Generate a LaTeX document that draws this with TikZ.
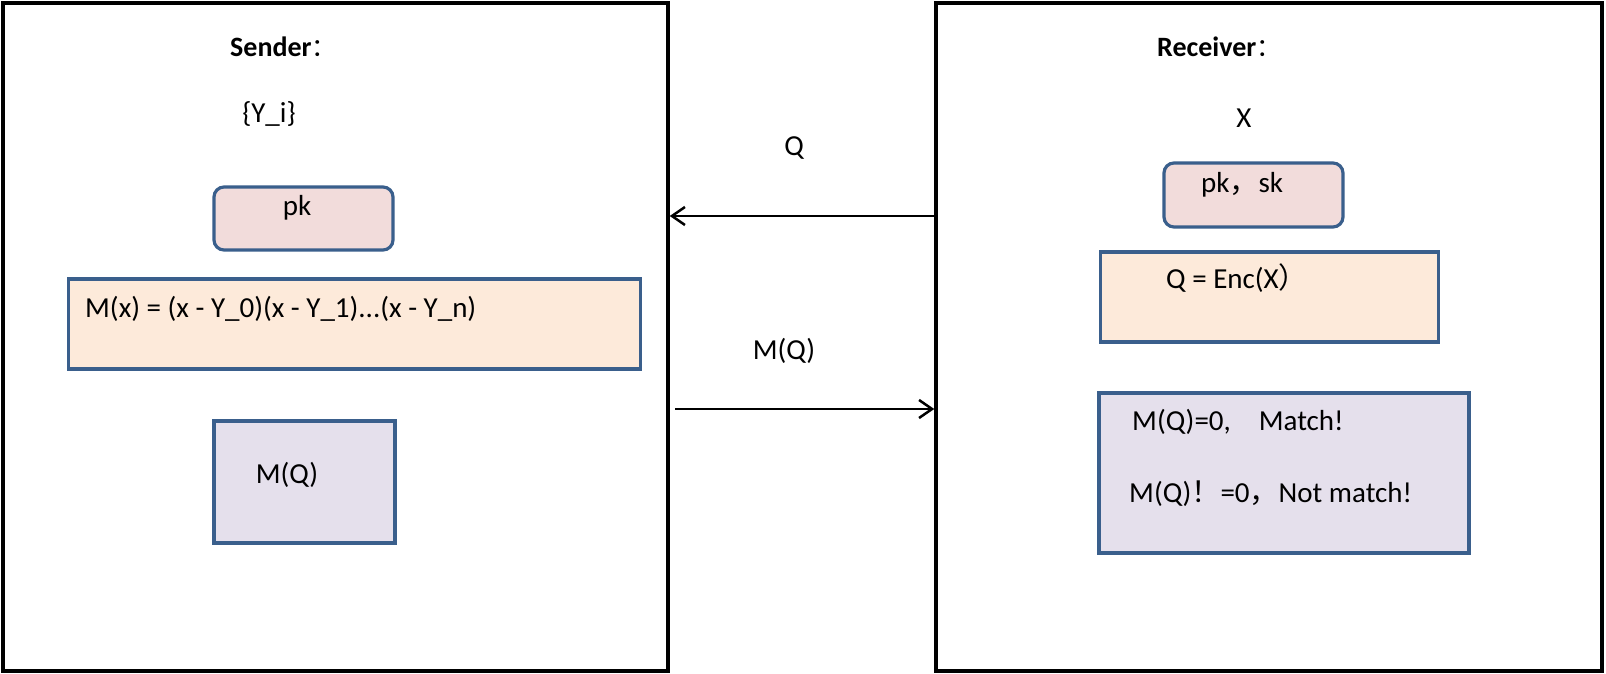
\documentclass[tikz,border=0pt]{standalone}
\usepackage{fontspec}
\setmainfont{Carlito}
\newfontfamily\cjk{Noto Sans CJK SC}
\usetikzlibrary{arrows.meta}
\definecolor{boxline}{RGB}{58,95,140}
\definecolor{keyfill}{RGB}{242,220,219}
\definecolor{polyfill}{RGB}{253,234,218}
\definecolor{resfill}{RGB}{229,224,236}
\newcommand{\titlecolon}{{\cjk\mdseries\fontsize{25}{30}\selectfont ：}}

\begin{document}
\begin{tikzpicture}[x=1pt,y=-1pt,
  party/.style={draw=black, line width=3.5pt, fill=white, inner sep=0pt},
  keybox/.style={draw=boxline, line width=3.2pt, fill=keyfill, rounded corners=10pt, inner sep=0pt},
  polybox/.style={draw=boxline, line width=3.2pt, fill=polyfill, inner sep=0pt},
  resbox/.style={draw=boxline, line width=3.2pt, fill=resfill, inner sep=0pt},
  txt/.style={anchor=base west, inner sep=0pt, font=\fontsize{29}{34}\selectfont},
  ctxt/.style={anchor=base, inner sep=0pt, font=\fontsize{29}{34}\selectfont},
  head/.style={anchor=base west, inner sep=0pt, font=\fontsize{28}{34}\selectfont\bfseries},
  msg/.style={line width=2.5pt, -{Straight Barb[length=13pt,width=18pt]}}
]
\useasboundingbox (0,0) rectangle (1606,674);

% Sender side
\node[party, minimum width=665pt, minimum height=668pt] (sender) at (335.5,337) {};
\node[head] (sendertitle) at (230,57) {Sender\titlecolon};
\node[ctxt] (yset) at (269,123) {\{Y\_i\}};
\node[keybox, minimum width=179pt, minimum height=63pt] (spk) at (303.5,218.5) {};
\node[ctxt] (spktext) at (297,215) {pk};
\node[polybox, minimum width=572pt, minimum height=90pt] (poly) at (354.5,324) {};
\node[txt] (polytext) at (85,317) {M(x) = (x - Y\_0)(x - Y\_1)...(x - Y\_n)};
\node[resbox, minimum width=181pt, minimum height=122pt] (smq) at (304.5,482) {};
\node[ctxt] (smqtext) at (287,483) {M(Q)};

% Receiver side
\node[party, minimum width=666pt, minimum height=668pt] (receiver) at (1269,337) {};
\node[head] (receivertitle) at (1157,57) {Receiver\titlecolon};
\node[ctxt] (xval) at (1244,128) {X};
\node[keybox, minimum width=179pt, minimum height=64pt] (rpk) at (1253.5,195) {};
\node[txt] (rpktext) at (1201,192) {pk{\cjk ，}sk};
\node[polybox, minimum width=338pt, minimum height=90pt] (enc) at (1269.5,297) {};
\node[txt] (enctext) at (1166,288) {Q = Enc(X{\cjk ）}};
\node[resbox, minimum width=370pt, minimum height=160pt] (res) at (1284,473) {};
\node[txt] (matchtext) at (1132,430) {M(Q)=0,\hspace{28pt}Match!};
\node[txt] (nomatchtext) at (1129,502) {M(Q){\cjk ！}=0{\cjk ，}Not match!};

% Messages
\coordinate (qy) at (0,216);
\draw[msg] (receiver.west |- qy) -- (sender.east |- qy);
\node[ctxt] (qlabel) at (794,156) {Q};
\coordinate (mqstart) at (675,409);
\draw[msg] (mqstart) -- (receiver.west |- mqstart);
\node[ctxt] (mqlabel) at (784,359) {M(Q)};
\end{tikzpicture}
\end{document}
